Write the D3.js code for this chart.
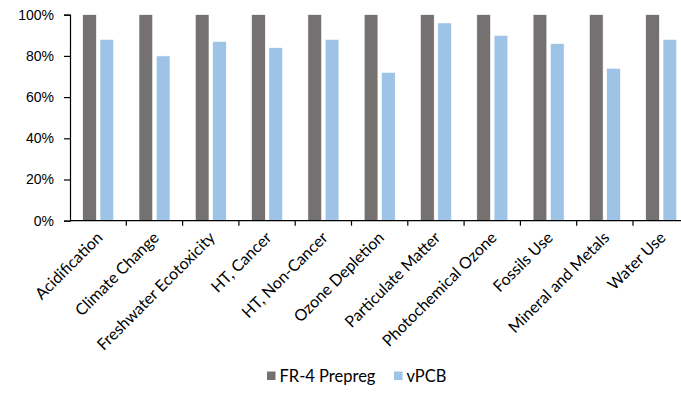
<!DOCTYPE html>
<html lang="en">
<head>
    <meta charset="UTF-8">
    <title>Impact comparison</title>
    <style>
        body { margin: 0; background: #ffffff; }
        svg { display: block; font-family: 'Lato', sans-serif; }
        .axis text { font-size: 14px; fill: #000; }
        .cat text { font-size: 16px; fill: #000; }
        .legend text { font-size: 16.5px; fill: #000; }
    </style>
    <script src="https://d3js.org/d3.v7.min.js"></script>
</head>
<body>
<svg id="chart" width="681" height="394"></svg>
<script>
    // categories and values (share of FR-4 Prepreg impact)
    const categories = ["Acidification", "Climate Change", "Freshwater Ecotoxicity", "HT, Cancer",
        "HT, Non-Cancer", "Ozone Depletion", "Particulate Matter", "Photochemical Ozone",
        "Fossils Use", "Mineral and Metals", "Water Use"];
    const seriesNames = ["FR-4 Prepreg", "vPCB"];
    const fr4Values = [1, 1, 1, 1, 1, 1, 1, 1, 1, 1, 1];
    const vpcbValues = [0.88, 0.80, 0.87, 0.84, 0.88, 0.72, 0.96, 0.90, 0.86, 0.74, 0.88];
    const yTicks = [0, 0.2, 0.4, 0.6, 0.8, 1];
    const colors = ["#767171", "#9dc3e6"];

    const svg = d3.select("#chart");
    const plotLeft = 70, plotTop = 14.7, plotBottom = 220.7;
    const step = 56.3;

    const x = d3.scaleBand()
        .domain(categories)
        .range([plotLeft, plotLeft + step * categories.length])
        .paddingInner(0).paddingOuter(0);

    const xInner = d3.scaleBand()
        .domain(seriesNames)
        .range([12.7, 43.7])
        .paddingInner(0.208);

    const y = d3.scaleLinear().domain([0, 1]).range([plotBottom, plotTop]);

    const rows = categories.map((c, i) => ({cat: c, vals: [fr4Values[i], vpcbValues[i]]}));

    // bars
    const groups = svg.append("g")
        .selectAll("g")
        .data(rows)
        .enter().append("g")
        .attr("transform", d => `translate(${x(d.cat)},0)`);

    groups.selectAll("rect")
        .data(d => d.vals.map((v, j) => ({name: seriesNames[j], v: v, j: j})))
        .enter().append("rect")
        .attr("x", d => xInner(d.name))
        .attr("width", xInner.bandwidth())
        .attr("y", d => y(d.v))
        .attr("height", d => y(0) - y(d.v))
        .attr("fill", d => colors[d.j])
        .attr("stroke", "#ffffff")
        .attr("stroke-width", 0.6);

    // y axis
    svg.append("g")
        .attr("class", "axis")
        .attr("transform", `translate(${plotLeft},0)`)
        .call(d3.axisLeft(y).tickValues(yTicks).tickFormat(d3.format(".0%")).tickSize(6).tickPadding(10))
        .call(g => g.selectAll("path,line").attr("stroke", "#000").attr("stroke-width", 1.2));

    // x axis with ticks between categories
    const xAxis = svg.append("g")
        .attr("transform", `translate(0,${plotBottom})`);
    xAxis.append("line")
        .attr("x1", plotLeft).attr("x2", x.range()[1])
        .attr("stroke", "#000").attr("stroke-width", 1.2);
    xAxis.selectAll("line.tick")
        .data(categories)
        .enter().append("line")
        .attr("class", "tick")
        .attr("x1", d => x(d) + x.bandwidth()).attr("x2", d => x(d) + x.bandwidth())
        .attr("y1", 0).attr("y2", 5)
        .attr("stroke", "#000").attr("stroke-width", 1.2);

    // rotated category labels
    svg.append("g")
        .attr("class", "cat")
        .selectAll("text")
        .data(categories)
        .enter().append("text")
        .attr("transform", d => `translate(${x(d) + x.bandwidth() / 2 + 1.5},${plotBottom + 14}) rotate(-45)`)
        .attr("text-anchor", "end")
        .attr("dy", "0.35em")
        .text(d => d);

    // legend
    const legendX = [267, 394];
    const legend = svg.append("g")
        .attr("class", "legend")
        .attr("transform", "translate(0,376)")
        .selectAll("g")
        .data(seriesNames)
        .enter().append("g")
        .attr("transform", (d, i) => `translate(${legendX[i]},0)`);
    legend.append("rect")
        .attr("x", 0).attr("y", -4.5)
        .attr("width", 8.5).attr("height", 8.5)
        .attr("fill", (d, i) => colors[i]);
    legend.append("text")
        .attr("x", 12.5)
        .attr("dy", "0.35em")
        .text(d => d);
</script>
</body>
</html>
